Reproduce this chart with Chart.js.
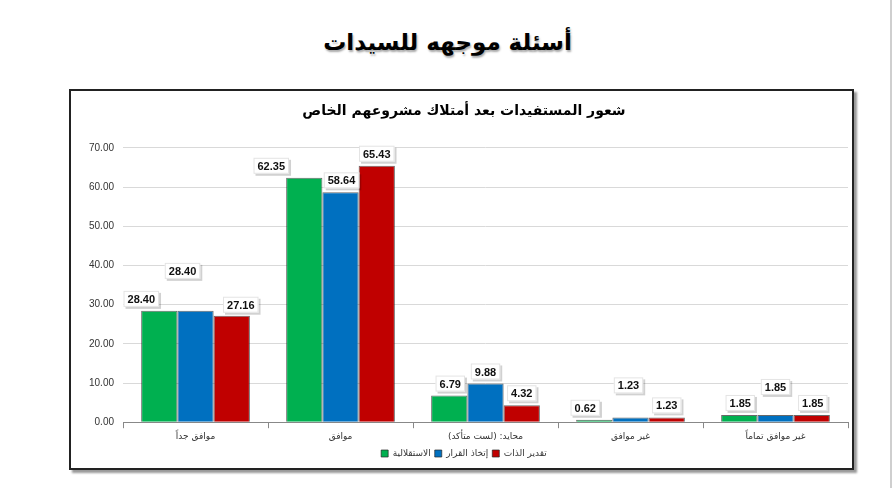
<!DOCTYPE html>
<html>
<head>
<meta charset="utf-8">
<script src="https://cdn.jsdelivr.net/npm/chart.js@4"></script>
<style>
  body { margin: 0; background: #fff; width: 895px; height: 488px; position: relative; overflow: hidden; }
  #pageTitle { position: absolute; left: 0; top: 29px; width: 895px; text-align: center;
    font: bold 23px 'DejaVu Sans', sans-serif; color: #000; text-shadow: 1px 2px 2px #aaa; direction: rtl; }
  #frame { position: absolute; left: 69px; top: 89px; width: 781px; height: 377px;
    border: 2px solid #222; box-shadow: 3px 3px 2px #9a9a9a; background: #fff; }
  #edge { position: absolute; left: 890px; top: 0; width: 2px; height: 488px; background: #cfcfcf; }
</style>
</head>
<body>
<div id="pageTitle">أسئلة موجهه للسيدات</div>
<div id="frame"><canvas id="myChart"></canvas></div>
<div id="edge"></div>
<script>
const categories = ['موافق جداً', 'موافق', 'محايد: (لست متأكد)', 'غير موافق', 'غير موافق تماماً'];
const seriesNames = ['الاستقلالية', 'إتخاذ القرار', 'تقدير الذات'];
const independence = [28.40, 62.35, 6.79, 0.62, 1.85];
const decisionMaking = [28.40, 58.64, 9.88, 1.23, 1.85];
const selfEsteem = [27.16, 65.43, 4.32, 1.23, 1.85];
const yTicks = [0, 10, 20, 30, 40, 50, 60, 70];

// label nudges (px) so boxes don't collide, like the hand-placed ones in the original
const labelNudge = [
  [[-18, 0], [-13, -28], [9, 1]],
  [[-33, 0], [1, 0], [0, 0]],
  [[1, 0], [0, 0], [0, 0]],
  [[-9, 0], [-2, -20], [0, 0]],
  [[1, 0], [0, -16], [1, 0]]
];

const boxLabels = {
  id: 'boxLabels',
  afterDatasetsDraw(chart) {
    const ctx = chart.ctx;
    ctx.save();
    ctx.font = "bold 11px 'Liberation Sans', Arial, sans-serif";
    ctx.textAlign = 'center';
    ctx.textBaseline = 'middle';
    chart.data.datasets.forEach((ds, di) => {
      chart.getDatasetMeta(di).data.forEach((bar, i) => {
        const txt = ds.data[i].toFixed(2);
        const n = labelNudge[i][di];
        const cx = bar.x + n[0];
        const cy = bar.y - 12 + n[1];
        const w = ctx.measureText(txt).width + 8;
        const h = 16;
        ctx.fillStyle = 'rgba(0,0,0,0.18)';
        ctx.fillRect(cx - w / 2 + 2, cy - h / 2 + 2, w, h);
        ctx.fillStyle = '#fff';
        ctx.fillRect(cx - w / 2, cy - h / 2, w, h);
        ctx.strokeStyle = '#e4e4e4';
        ctx.lineWidth = 1;
        ctx.strokeRect(cx - w / 2 + 0.5, cy - h / 2 + 0.5, w - 1, h - 1);
        ctx.fillStyle = '#111';
        ctx.fillText(txt, cx, cy + 1);
      });
    });
    ctx.restore();
  }
};

const ctx = document.getElementById('myChart').getContext('2d');
Chart.defaults.font.family = "'Liberation Sans', 'DejaVu Sans', Arial, sans-serif";
Chart.defaults.color = '#222';

new Chart(ctx, {
  type: 'bar',
  data: {
    labels: categories,
    datasets: [
      { label: seriesNames[0], data: independence, backgroundColor: '#00B050' },
      { label: seriesNames[1], data: decisionMaking, backgroundColor: '#0070C0' },
      { label: seriesNames[2], data: selfEsteem, backgroundColor: '#C00000' }
    ]
  },
  options: {
    responsive: true,
    maintainAspectRatio: false,
    animation: false,
    layout: { padding: { left: 9, right: 4, top: 4, bottom: 0 } },
    datasets: {
      bar: {
        categoryPercentage: 0.75,
        barPercentage: 1,
        borderColor: 'rgba(40,40,40,0.7)',
        borderWidth: 1
      }
    },
    plugins: {
      title: {
        display: true,
        text: 'شعور المستفيدات بعد أمتلاك مشروعهم الخاص',
        font: { size: 14, weight: 'bold', family: "'DejaVu Sans', sans-serif" },
        color: '#000',
        padding: { top: 8, bottom: 28 }
      },
      legend: {
        position: 'bottom',
        labels: {
          boxWidth: 7,
          boxHeight: 7,
          padding: 4,
          font: { size: 9, family: "'DejaVu Sans', sans-serif" },
          color: '#333'
        }
      },
      tooltip: { enabled: false }
    },
    scales: {
      x: {
        grid: { display: true, drawOnChartArea: false, tickLength: 6, color: '#888', offset: true },
        border: { display: true, color: '#888' },
        ticks: { font: { size: 9, family: "'DejaVu Sans', sans-serif" }, color: '#333', maxRotation: 0, padding: 3 }
      },
      y: {
        min: 0,
        max: 70,
        afterBuildTicks(axis) { axis.ticks = yTicks.map(v => ({ value: v })); },
        grid: { color: '#d9d9d9', drawTicks: false },
        border: { display: false },
        ticks: { font: { size: 10 }, color: '#333', padding: 9, callback: v => v.toFixed(2) }
      }
    }
  },
  plugins: [boxLabels]
});
</script>
</body>
</html>
